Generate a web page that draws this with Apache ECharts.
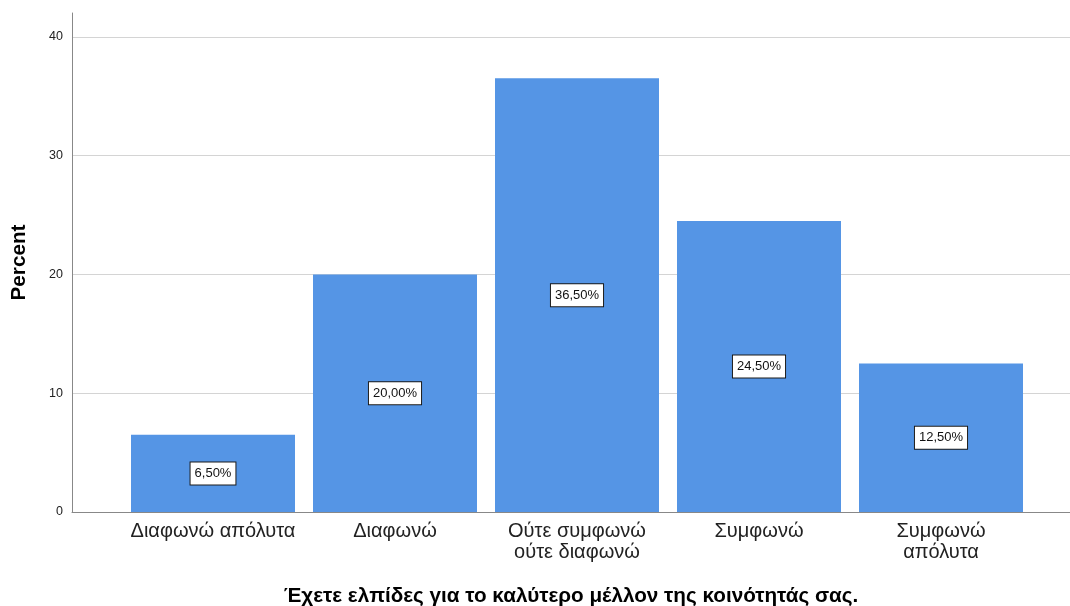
<!DOCTYPE html>
<html><head><meta charset="utf-8">
<script src="https://cdn.jsdelivr.net/npm/echarts@6/dist/echarts.min.js"></script>
<style>html,body{margin:0;padding:0;background:#fff}#c{width:1070px;height:606px}</style>
</head><body><div id="c"></div>
<script>
const categories = ['Διαφωνώ απόλυτα', 'Διαφωνώ', 'Ούτε συμφωνώ\nούτε διαφωνώ', 'Συμφωνώ', 'Συμφωνώ\nαπόλυτα'];
const percents = [6.5, 20.0, 36.5, 24.5, 12.5];
const yTicks = [0, 10, 20, 30, 40];
const xTitle = 'Έχετε ελπίδες για το καλύτερο μέλλον της κοινότητάς σας.';
const yTitle = 'Percent';

const font = '"Liberation Sans", Arial, sans-serif';
const chart = echarts.init(document.getElementById('c'));
chart.setOption({
  animation: false,
  backgroundColor: '#fff',
  grid: [
    {left: 122, right: 38, top: 13, bottom: 94, containLabel: false, outerBoundsMode: 'none'},
    {left: 72, right: 0, top: 13, bottom: 94, containLabel: false, outerBoundsMode: 'none'}
  ],
  xAxis: [
    {gridIndex: 0, type: 'category', data: categories,
     axisLine: {show: false}, axisTick: {show: false},
     axisLabel: {fontFamily: font, fontSize: 20, color: '#222', margin: 9, lineHeight: 21, interval: 0}},
    {gridIndex: 1, type: 'value', min: 0, max: 1,
     axisLine: {show: true, lineStyle: {color: '#888', width: 1}},
     axisTick: {show: false}, axisLabel: {show: false}, splitLine: {show: false},
     name: xTitle, nameLocation: 'middle', nameGap: 74,
     nameTextStyle: {fontFamily: font, fontSize: 20.7, fontWeight: 'bold', color: '#000'}}
  ],
  yAxis: [
    {gridIndex: 0, type: 'value', min: 0, max: 42, show: false, splitLine: {show: false}},
    {gridIndex: 1, type: 'value', min: 0, max: 42, interval: 10,
     axisLine: {show: true, lineStyle: {color: '#888', width: 1}},
     axisTick: {show: false},
     axisLabel: {fontFamily: font, fontSize: 12.5, color: '#222', margin: 9, showMaxLabel: false,
       formatter: v => yTicks.includes(v) ? String(v) : ''},
     splitLine: {show: true, showMaxLine: false, lineStyle: {color: '#d4d4d4', width: 1}},
     name: yTitle, nameLocation: 'middle', nameGap: 42,
     nameTextStyle: {fontFamily: font, fontSize: 20.7, fontWeight: 'bold', color: '#000'}}
  ],
  series: [{
    type: 'bar', xAxisIndex: 0, yAxisIndex: 0,
    data: percents, barWidth: 164,
    itemStyle: {color: '#5595e5'},
    label: {show: true, position: 'inside',
      formatter: p => p.value.toFixed(2).replace('.', ',') + '%',
      fontFamily: font, fontSize: 13, color: '#111',
      backgroundColor: '#fff', borderColor: '#1a1a1a', borderWidth: 1, padding: [5, 4, 4, 4]}
  }]
});
</script></body></html>
